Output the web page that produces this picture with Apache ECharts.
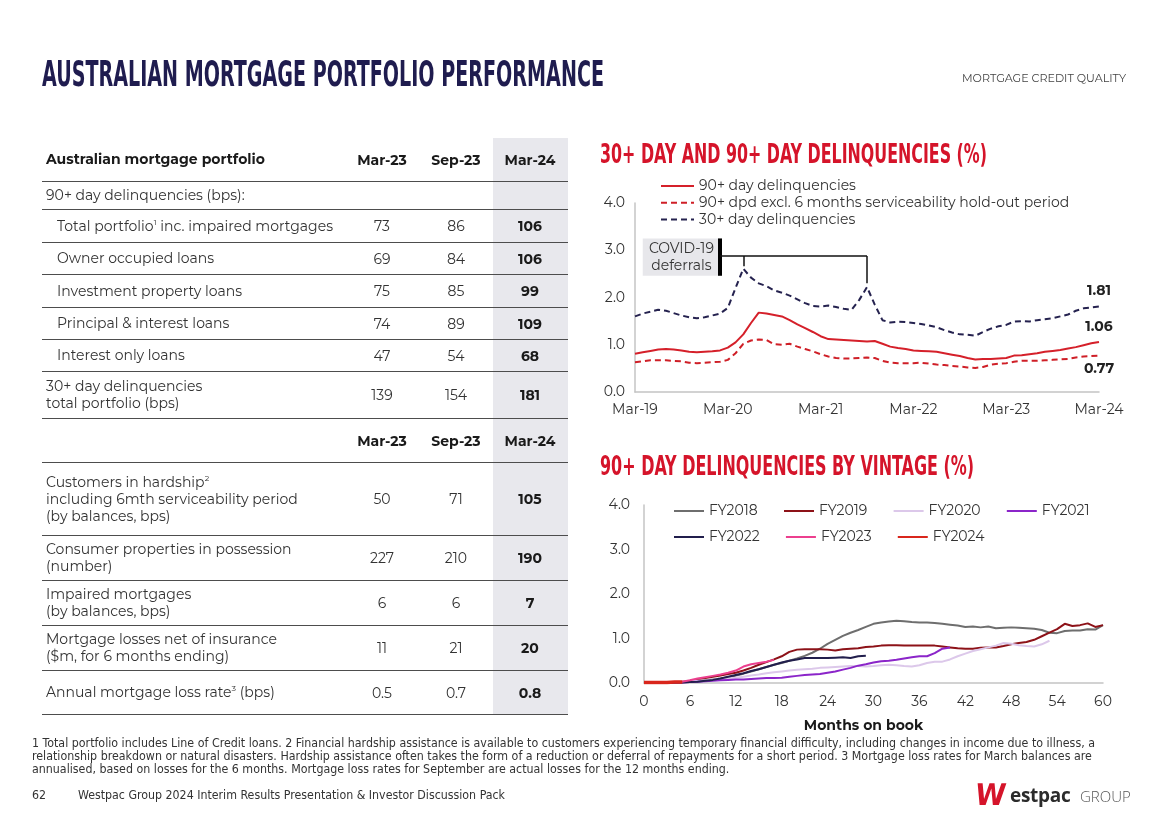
<!DOCTYPE html>
<html>
<head>
<meta charset="utf-8">
<script src="https://cdn.jsdelivr.net/npm/echarts@6/dist/echarts.min.js"></script>
<style>
html,body{margin:0;padding:0;background:#fff;}
body{width:1168px;height:825px;position:relative;overflow:hidden;font-family:"Montserrat","Open Sans","Noto Sans",sans-serif;color:#333;}
#chart{position:absolute;left:0;top:0;width:1168px;height:825px;}
.abs{position:absolute;white-space:nowrap;transform-origin:left top;}
.narrowbold{font-family:"Liberation Sans Narrow","DejaVu Sans Condensed",sans-serif;font-weight:bold;line-height:1;}
#title{left:42px;top:56px;font-size:36px;color:#1f1c4f;}
.ctitle{left:600px;font-size:26px;color:#d5142a;}
#section{left:962px;top:71px;font-size:11px;color:#444;line-height:14px;}
#colbg{position:absolute;left:493px;top:138px;width:75px;height:577px;background:#e8e8ed;}
.row{position:absolute;left:42px;width:526px;border-bottom:1.5px solid #4d4d4d;box-sizing:border-box;font-size:14px;}
.row .lab{position:absolute;left:4px;top:0;bottom:0;display:flex;align-items:center;line-height:17px;white-space:nowrap;}
.row .lab.ind{left:15px;}
.row .v{position:absolute;top:0;bottom:0;width:70px;display:flex;align-items:center;justify-content:center;}
.row.hdr{font-weight:bold;color:#1a1a1a;}
.b{font-weight:bold;color:#1a1a1a;}
sup{font-size:8px;vertical-align:6px;line-height:0;}
#foot{left:32px;top:737px;font-family:"Liberation Sans Narrow","DejaVu Sans Condensed",sans-serif;font-size:11.5px;line-height:13px;color:#333;}
#page{left:32px;top:788px;font-family:"Liberation Sans Narrow","DejaVu Sans Condensed",sans-serif;font-size:11.5px;color:#333;}
#logo{left:977px;top:781px;height:28px;}
</style>
</head>
<body>
<div id="chart"></div>
<div id="colbg"></div>
<div id="table"></div>
<div id="title" class="abs narrowbold">AUSTRALIAN MORTGAGE PORTFOLIO PERFORMANCE</div>
<div id="section" class="abs">MORTGAGE CREDIT QUALITY</div>
<div id="ct1" class="abs narrowbold ctitle" style="top:141px;">30+ DAY AND 90+ DAY DELINQUENCIES (%)</div>
<div id="ct2" class="abs narrowbold ctitle" style="top:453px;">90+ DAY DELINQUENCIES BY VINTAGE (%)</div>
<div id="foot" class="abs"><span id="fl1">1 Total portfolio includes Line of Credit loans. 2 Financial hardship assistance is available to customers experiencing temporary financial difficulty, including changes in income due to illness, a</span><br><span id="fl2">relationship breakdown or natural disasters. Hardship assistance often takes the form of a reduction or deferral of repayments for a short period. 3 Mortgage loss rates for March balances are</span><br><span id="fl3">annualised, based on losses for the 6 months. Mortgage loss rates for September are actual losses for the 12 months ending.</span></div>
<div id="page" class="abs"><span>62</span><span style="position:absolute;left:43px;" id="pgt">Westpac Group 2024 Interim Results Presentation &amp; Investor Discussion Pack</span></div>
<div id="logo" class="abs">
  <span id="logoW" style="position:absolute;left:0;top:0px;font-family:'DejaVu Sans',sans-serif;font-weight:bold;font-size:30px;color:#d5142a;line-height:27px;transform-origin:left top;transform:scaleX(0.92) skewX(-8deg);">W</span>
  <span style="position:absolute;left:33px;top:2px;font-family:'Open Sans',sans-serif;font-weight:bold;font-size:19px;color:#2b2b2b;line-height:24px;letter-spacing:-0.3px;">estpac</span>
  <span style="position:absolute;left:103px;top:5px;font-family:'Open Sans',sans-serif;font-weight:300;font-size:15px;color:#555;line-height:20px;">GROUP</span>
</div>
<script>
// ---------- table data ----------
var tableCols = ['Mar-23', 'Sep-23', 'Mar-24'];
var sec1Labels = ['90+ day delinquencies (bps):', 'Total portfolio<sup>1</sup> inc. impaired mortgages', 'Owner occupied loans', 'Investment property loans', 'Principal &amp; interest loans', 'Interest only loans', '30+ day delinquencies<br>total portfolio (bps)'];
var sec1Mar23 = ['', '73', '69', '75', '74', '47', '139'];
var sec1Sep23 = ['', '86', '84', '85', '89', '54', '154'];
var sec1Mar24 = ['', '106', '106', '99', '109', '68', '181'];
var sec1Indent = [false, true, true, true, true, true, false];
var sec2Labels = ['Customers in hardship<sup>2</sup><br>including 6mth serviceability period<br>(by balances, bps)', 'Consumer properties in possession<br>(number)', 'Impaired mortgages<br>(by balances, bps)', 'Mortgage losses net of insurance<br>($m, for 6 months ending)', 'Annual mortgage loss rate<sup>3</sup> (bps)'];
var sec2Mar23 = ['50', '227', '6', '11', '0.5'];
var sec2Sep23 = ['71', '210', '6', '21', '0.7'];
var sec2Mar24 = ['105', '190', '7', '20', '0.8'];

// ---------- chart 1 data (monthly, Mar-19 .. Mar-24) ----------
var d90 = [0.81,0.84,0.87,0.90,0.91,0.90,0.88,0.85,0.84,0.85,0.86,0.88,0.94,1.05,1.22,1.46,1.68,1.66,1.63,1.60,1.52,1.43,1.35,1.27,1.18,1.12,1.11,1.10,1.09,1.08,1.07,1.08,1.02,0.96,0.93,0.91,0.88,0.87,0.86,0.85,0.82,0.79,0.76,0.72,0.69,0.70,0.70,0.71,0.72,0.77,0.78,0.80,0.82,0.85,0.87,0.89,0.92,0.95,0.99,1.03,1.06];
var d90excl = [0.63,0.65,0.67,0.67,0.67,0.66,0.65,0.62,0.61,0.62,0.63,0.64,0.68,0.82,1.02,1.09,1.11,1.10,1.01,1.00,1.02,0.96,0.91,0.86,0.80,0.75,0.72,0.71,0.71,0.72,0.73,0.72,0.66,0.62,0.61,0.61,0.61,0.62,0.60,0.58,0.57,0.55,0.54,0.52,0.51,0.53,0.58,0.60,0.61,0.64,0.66,0.66,0.66,0.67,0.68,0.69,0.70,0.73,0.75,0.76,0.77];
var d30 = [1.60,1.66,1.70,1.74,1.72,1.67,1.62,1.58,1.56,1.58,1.62,1.66,1.78,2.20,2.61,2.42,2.30,2.24,2.15,2.10,2.04,1.96,1.88,1.82,1.81,1.83,1.80,1.76,1.74,1.95,2.22,1.85,1.52,1.47,1.49,1.48,1.46,1.44,1.41,1.37,1.31,1.26,1.22,1.21,1.19,1.27,1.34,1.39,1.42,1.49,1.50,1.49,1.52,1.54,1.56,1.60,1.64,1.72,1.77,1.79,1.81];
var monthNames = ['Jan','Feb','Mar','Apr','May','Jun','Jul','Aug','Sep','Oct','Nov','Dec'];
var months1 = [];
for (var i = 0; i < 61; i++) { var mi = 2 + i; months1.push(monthNames[mi % 12] + '-' + (19 + Math.floor(mi / 12))); }
var covidLabel = 'COVID-19\ndeferrals';

// ---------- chart 2 data (months on book 0..60) ----------
var mob = []; for (var k = 0; k <= 60; k++) mob.push(String(k));
var fy2018 = [0.00,0.00,0.00,0.01,0.01,0.02,0.03,0.05,0.06,0.08,0.10,0.13,0.17,0.21,0.26,0.31,0.36,0.41,0.45,0.50,0.55,0.61,0.68,0.77,0.88,0.97,1.06,1.13,1.19,1.26,1.33,1.36,1.38,1.40,1.39,1.37,1.36,1.36,1.35,1.33,1.31,1.29,1.26,1.27,1.25,1.27,1.23,1.24,1.25,1.24,1.23,1.22,1.19,1.13,1.12,1.17,1.18,1.18,1.21,1.20,1.30];
var fy2019 = [0.00,0.00,0.00,0.01,0.02,0.03,0.05,0.08,0.11,0.14,0.17,0.20,0.23,0.28,0.34,0.41,0.47,0.53,0.60,0.70,0.75,0.76,0.76,0.76,0.75,0.73,0.76,0.77,0.78,0.81,0.82,0.84,0.85,0.85,0.84,0.84,0.84,0.84,0.84,0.82,0.80,0.78,0.77,0.77,0.79,0.80,0.80,0.83,0.87,0.90,0.92,0.97,1.05,1.13,1.21,1.33,1.28,1.30,1.34,1.26,1.30];
var fy2020 = [0.00,0.00,0.00,0.01,0.02,0.03,0.04,0.05,0.06,0.08,0.09,0.11,0.12,0.14,0.17,0.19,0.22,0.24,0.26,0.28,0.30,0.31,0.32,0.34,0.35,0.36,0.37,0.38,0.38,0.37,0.38,0.40,0.41,0.40,0.38,0.37,0.40,0.45,0.48,0.48,0.53,0.60,0.66,0.72,0.76,0.80,0.84,0.90,0.88,0.85,0.83,0.82,0.87,0.95];
var fy2021 = [0.00,0.00,0.00,0.00,0.01,0.01,0.02,0.03,0.04,0.05,0.06,0.07,0.08,0.08,0.09,0.10,0.11,0.11,0.12,0.14,0.16,0.18,0.19,0.20,0.23,0.26,0.30,0.34,0.39,0.42,0.46,0.49,0.50,0.52,0.55,0.58,0.60,0.60,0.67,0.77,0.80];
var fy2022 = [0.00,0.00,0.00,0.00,0.01,0.01,0.02,0.03,0.05,0.07,0.10,0.14,0.18,0.22,0.27,0.31,0.36,0.41,0.46,0.50,0.53,0.56,0.56,0.56,0.56,0.57,0.58,0.56,0.60,0.61];
var fy2023 = [0.00,0.00,0.00,0.01,0.02,0.03,0.06,0.10,0.13,0.16,0.19,0.23,0.28,0.37,0.42,0.45,0.48,0.52];
var fy2024 = [0.01,0.01,0.01,0.01,0.02,0.02];
var vintageNames = ['FY2018','FY2019','FY2020','FY2021','FY2022','FY2023','FY2024'];
var vintageData = [fy2018, fy2019, fy2020, fy2021, fy2022, fy2023, fy2024];
var vintageColors = ['#6e6e6e','#8d1218','#dcc8ea','#8b25c9','#211e4c','#ec3f8e','#d9261c'];
var vintageWidths = [2, 2, 2, 2, 2, 2, 3.5];

// ---------- build table ----------
(function () {
  var host = document.getElementById('table');
  var html = '';
  var y = 138;
  var centers = [382, 456, 530];
  function row(top, h, labelHtml, vals, cls, indent, boldLast) {
    var s = '<div class="row ' + (cls || '') + '" style="top:' + top + 'px;height:' + h + 'px;">';
    s += '<div class="lab' + (indent ? ' ind' : '') + '">' + '<div>' + labelHtml + '</div></div>';
    for (var c = 0; c < 3; c++) {
      s += '<div class="v' + ((boldLast && c === 2) ? ' b' : '') + '" style="left:' + (centers[c] - 42 - 35) + 'px;">' + vals[c] + '</div>';
    }
    return s + '</div>';
  }
  html += row(y, 44, 'Australian mortgage portfolio', tableCols, 'hdr', false, false); y += 44;
  var h1 = [28, 33, 32, 33, 32, 32, 47];
  for (var r = 0; r < sec1Labels.length; r++) {
    html += row(y, h1[r], sec1Labels[r], [sec1Mar23[r], sec1Sep23[r], sec1Mar24[r]], '', sec1Indent[r], true); y += h1[r];
  }
  html += row(y, 44, '', tableCols, 'hdr', false, false); y += 44;
  var h2 = [73, 45, 45, 45, 44];
  for (var r2 = 0; r2 < sec2Labels.length; r2++) {
    html += row(y, h2[r2], sec2Labels[r2], [sec2Mar23[r2], sec2Sep23[r2], sec2Mar24[r2]], '', false, true); y += h2[r2];
  }
  host.innerHTML = html;
})();

// ---------- fit text widths ----------
function fitW(id, w) {
  var el = document.getElementById(id);
  var nat = el.getBoundingClientRect().width;
  var s = w / nat;
  el.style.transform = 'scaleX(' + s + ')';
  return s;
}
fitW('title', 562);
fitW('ct1', 387);
fitW('ct2', 374);
fitW('section', 164);
(function () {
  var f = document.getElementById('foot');
  var l1 = document.getElementById('fl1').getBoundingClientRect().width;
  f.style.transform = 'scaleX(' + (1063 / l1) + ')';
  var p = document.getElementById('page');
  var pt = document.getElementById('pgt').getBoundingClientRect().width;
  p.style.transform = 'scaleX(' + (473 / (43 + pt)) + ')';
})();

// ---------- charts ----------
var FONT = '"Montserrat","Open Sans","Noto Sans",sans-serif';
var FS = 14;
var chart = echarts.init(document.getElementById('chart'), null, { renderer: 'canvas' });

function measure(t, size) {
  var c = document.createElement('canvas').getContext('2d');
  c.font = size + 'px ' + FONT;
  return c.measureText(t).width;
}
var legItemW = 30;
var vGap = Math.max(4, 109 - legItemW - 5 - measure('FY2018', FS));

function endPoint(arr, pos, dist) {
  return {
    symbol: 'circle', symbolSize: 0, silent: true,
    label: { show: true, position: pos, distance: dist, fontFamily: FONT, fontSize: FS, fontWeight: 'bold', color: '#222', formatter: function (p) { return p.value.toFixed(2); } },
    data: [{ coord: [arr.length - 1, arr[arr.length - 1]], value: arr[arr.length - 1] }]
  };
}

var axisLineStyle = { color: '#c4c4c4', width: 1.5 };
var series = [
  { name: '90+ day delinquencies', type: 'line', xAxisIndex: 0, yAxisIndex: 0, data: d90, showSymbol: false, symbol: 'none',
    lineStyle: { color: '#d5202a', width: 2 }, itemStyle: { color: '#d5202a' }, z: 4,
    markPoint: endPoint(d90, 'top', 8) },
  { name: '90+ dpd excl. 6 months serviceability hold-out period', type: 'line', xAxisIndex: 0, yAxisIndex: 0, data: d90excl, showSymbol: false, symbol: 'none',
    lineStyle: { color: '#cf1f27', width: 2, type: [6, 4] }, itemStyle: { color: '#cf1f27' }, z: 3,
    markPoint: endPoint(d90excl, 'bottom', 6) },
  { name: '30+ day delinquencies', type: 'line', xAxisIndex: 0, yAxisIndex: 0, data: d30, showSymbol: false, symbol: 'none',
    lineStyle: { color: '#25224f', width: 2, type: [6, 4] }, itemStyle: { color: '#25224f' }, z: 3,
    markPoint: endPoint(d30, 'top', 9),
    markArea: { silent: true, itemStyle: { color: '#e7e7eb' },
      label: { show: true, position: 'inside', formatter: covidLabel, fontFamily: FONT, fontSize: FS, color: '#333', lineHeight: 17 },
      data: [[{ coord: [1, 3.25] }, { coord: [11, 2.46] }]] },
    markLine: { silent: true, symbol: ['none', 'none'], label: { show: false }, animation: false,
      lineStyle: { color: '#111', width: 1.5, type: 'solid' },
      data: [
        [{ coord: [11, 3.25], lineStyle: { width: 4, color: '#000', type: 'solid' } }, { coord: [11, 2.46] }],
        [{ coord: [11, 2.88] }, { coord: [30, 2.88] }],
        [{ coord: [14, 2.88] }, { coord: [14, 2.66] }],
        [{ coord: [30, 2.88] }, { coord: [30, 2.30] }]
      ] } }
];
for (var v = 0; v < vintageNames.length; v++) {
  series.push({ name: vintageNames[v], type: 'line', xAxisIndex: 1, yAxisIndex: 1, data: vintageData[v],
    showSymbol: false, symbol: 'none', lineStyle: { color: vintageColors[v], width: vintageWidths[v] },
    itemStyle: { color: vintageColors[v] }, z: 2 + v });
}

function legendOpts(o) {
  o.selectedMode = false;
  o.padding = 0;
  o.itemStyle = { opacity: 0, borderWidth: 0 };
  o.textStyle = { fontSize: FS, color: '#333', fontFamily: FONT, lineHeight: 14 };
  return o;
}
var option = {
  animation: false,
  textStyle: { fontFamily: FONT },
  grid: [
    { left: 635, top: 203, width: 464, height: 189, containLabel: false },
    { left: 644, top: 505, width: 459, height: 178, containLabel: false }
  ],
  xAxis: [
    { type: 'category', gridIndex: 0, data: months1, boundaryGap: false,
      axisLine: { lineStyle: axisLineStyle }, axisTick: { show: false },
      axisLabel: { interval: 11, color: '#333', fontSize: FS, margin: 11, fontFamily: FONT } },
    { type: 'category', gridIndex: 1, data: mob, boundaryGap: false,
      axisLine: { lineStyle: axisLineStyle }, axisTick: { show: false },
      axisLabel: { interval: 5, color: '#333', fontSize: FS, margin: 12, fontFamily: FONT },
      name: 'Months on book', nameLocation: 'middle', nameGap: 36,
      nameTextStyle: { fontWeight: 'bold', fontSize: FS, color: '#1a1a1a', fontFamily: FONT, padding: [0, 20, 0, 0] } }
  ],
  yAxis: [
    { type: 'value', gridIndex: 0, min: 0, max: 4, interval: 1,
      axisLine: { show: true, lineStyle: axisLineStyle }, axisTick: { show: false }, splitLine: { show: false },
      axisLabel: { color: '#333', fontSize: FS, margin: 10, fontFamily: FONT, formatter: function (x) { return x.toFixed(1); } } },
    { type: 'value', gridIndex: 1, min: 0, max: 4, interval: 1,
      axisLine: { show: true, lineStyle: axisLineStyle }, axisTick: { show: false }, splitLine: { show: false },
      axisLabel: { color: '#333', fontSize: FS, margin: 14, fontFamily: FONT, formatter: function (x) { return x.toFixed(1); } } }
  ],
  legend: [
    legendOpts({ data: ['90+ day delinquencies', '90+ dpd excl. 6 months serviceability hold-out period', '30+ day delinquencies'],
      orient: 'vertical', left: 660, top: 179, itemWidth: 33, itemHeight: 14, itemGap: 2.7 }),
    legendOpts({ data: vintageNames.slice(0, 4), orient: 'horizontal', left: 673, top: 504, itemWidth: legItemW, itemHeight: 14, itemGap: vGap }),
    legendOpts({ data: vintageNames.slice(4), orient: 'horizontal', left: 673, top: 530, itemWidth: legItemW, itemHeight: 14, itemGap: vGap })
  ],
  series: series
};
chart.setOption(option);
</script>
</body>
</html>
